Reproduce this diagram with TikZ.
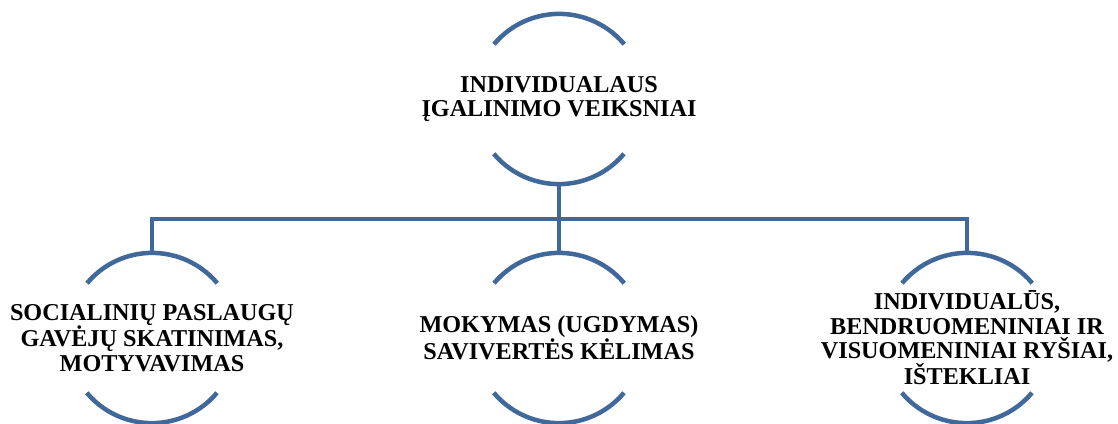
\documentclass[tikz,border=0pt]{standalone}
\usepackage{fontspec}
\setmainfont{Liberation Serif}
\definecolor{linec}{RGB}{64,104,154}
\begin{document}
\begin{tikzpicture}[x=1pt,y=1pt,
  ring/.style={circle,minimum size=170pt,inner sep=0pt,draw=none},
  txt/.style={align=center,font=\fontsize{24.2}{24.5}\selectfont\bfseries,inner sep=0pt,text=black},
  conn/.style={draw=linec,line width=4.5pt}]
\useasboundingbox (0,0) rectangle (1118,-423);
\node[ring] (top) at (559,-99) {};
\node[ring] (c1) at (152,-338) {};
\node[ring] (c2) at (559,-338) {};
\node[ring] (c3) at (967,-338) {};
\node[txt] (ttop) at (top) {INDIVIDUALAUS\\ĮGALINIMO VEIKSNIAI};
\node[txt] (t1) at (c1) {SOCIALINIŲ PASLAUGŲ\\GAVĖJŲ SKATINIMAS,\\MOTYVAVIMAS};
\node[txt] (t2) at (c2) {MOKYMAS (UGDYMAS)\\SAVIVERTĖS KĖLIMAS};
\node[txt] (t3) at (c3) {INDIVIDUALŪS,\\BENDRUOMENINIAI IR\\VISUOMENINIAI RYŠIAI,\\IŠTEKLIAI};
\foreach \n in {top,c1,c2,c3}{
  \draw[conn] (\n.40) arc[start angle=40,end angle=140,radius=85pt];
  \draw[conn] (\n.220) arc[start angle=220,end angle=320,radius=85pt];
}
\coordinate (bus) at (559,-219);
\draw[conn] (top.south) -- (bus);
\draw[conn] (c1.north) |- (bus) -| (c3.north);
\draw[conn] (bus) -- (c2.north);
\end{tikzpicture}
\end{document}
